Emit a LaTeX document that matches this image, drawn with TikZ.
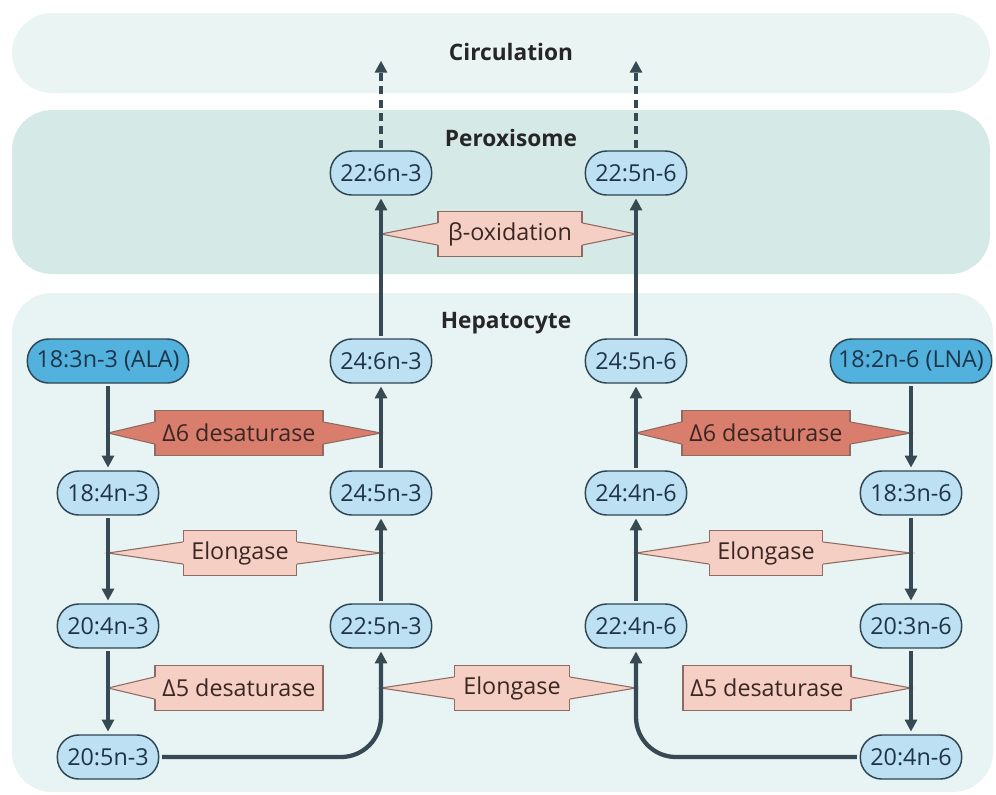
\documentclass[tikz,border=0pt]{standalone}
\usepackage{fontspec}
\setmainfont{Open Sans}
\usetikzlibrary{arrows.meta,calc}

\definecolor{circbg}{HTML}{EAF4F2}
\definecolor{peroxbg}{HTML}{D5EAE6}
\definecolor{hepbg}{HTML}{E8F3F4}
\definecolor{fafill}{HTML}{BEE0F3}
\definecolor{fadark}{HTML}{52B2DD}
\definecolor{faline}{HTML}{2C4654}
\definecolor{fatext}{HTML}{1E3448}
\definecolor{enzdark}{HTML}{D97E6D}
\definecolor{enzlight}{HTML}{F6CFC4}
\definecolor{enzline}{HTML}{8E6A62}
\definecolor{enztext}{HTML}{3A2724}
\definecolor{arrowgrey}{HTML}{374A53}

\tikzset{
  fa/.style={draw=faline, line width=1.1pt, fill=fafill, rounded corners=16pt,
    minimum width=76pt, minimum height=33pt, inner sep=3pt, text=fatext,
    font=\fontsize{17.5}{20}\selectfont},
  fasource/.style={fa, fill=fadark, minimum width=121pt},
  enz/.style={draw=enzline, line width=0.8pt, fill=enzlight, minimum height=34pt,
    inner sep=3pt, text=enztext, font=\fontsize{17.5}{20}\selectfont},
  enzd/.style={enz, fill=enzdark},
  place/.style={font=\fontsize{17}{20}\selectfont\bfseries, text=black!85},
  arr/.style={arrowgrey, line width=3.2pt, -{Triangle[length=9pt,width=9pt]},
    shorten >=2pt, shorten <=2pt},
}

\begin{document}
\begin{tikzpicture}[x=0.75pt, y=-0.75pt]
    \useasboundingbox (0,0) rectangle (996,794);

    % Compartments
    \fill[circbg, rounded corners=30pt] (12,13) rectangle (990,93);
    \fill[peroxbg, rounded corners=30pt] (12,110) rectangle (990,274);
    \fill[hepbg, rounded corners=30pt] (12,293) rectangle (993,792);
    \node[place] (circ) at (511,52) {Circulation};
    \node[place] (perox) at (511,138) {Peroxisome};
    \node[place] (hep) at (506,323) {Hepatocyte};

    % n-3 fatty acids
    \node[fasource] (n183) at (108,361) {18:3n-3 (ALA)};
    \node[fa] (n184) at (108,493) {18:4n-3};
    \node[fa] (n204) at (108,626) {20:4n-3};
    \node[fa] (n205) at (108,757) {20:5n-3};
    \node[fa] (n225) at (381,626) {22:5n-3};
    \node[fa] (n245) at (381,493) {24:5n-3};
    \node[fa] (n246) at (381,361) {24:6n-3};
    \node[fa] (n226) at (381,173) {22:6n-3};

    % n-6 fatty acids
    \node[fasource] (m182) at (911,361) {18:2n-6 (LNA)};
    \node[fa] (m183) at (911,493) {18:3n-6};
    \node[fa] (m203) at (911,626) {20:3n-6};
    \node[fa] (m204) at (911,757) {20:4n-6};
    \node[fa] (m224) at (636,626) {22:4n-6};
    \node[fa] (m244) at (636,493) {24:4n-6};
    \node[fa] (m245) at (636,361) {24:5n-6};
    \node[fa] (m225) at (636,173) {22:5n-6};

    % Enzymes
    \node[enzd, minimum width=126pt] (d6a) at (239,433) {Δ6 desaturase};
    \node[enz, minimum width=85pt] (ela) at (240,553) {Elongase};
    \node[enz, minimum width=126pt] (d5a) at (239,688) {Δ5 desaturase};
    \node[enz, minimum width=108pt] (box) at (510,234) {β-oxidation};
    \node[enz, minimum width=86pt] (elm) at (512,688) {Elongase};
    \node[enzd, minimum width=126pt] (d6b) at (766,433) {Δ6 desaturase};
    \node[enz, minimum width=85pt] (elb) at (766,553) {Elongase};
    \node[enz, minimum width=126pt] (d5b) at (767,688) {Δ5 desaturase};

    % Pointers from the enzyme boxes to the arrows
    \foreach \e/\s/\t/\d/\c in {d6a/west/n184/1/enzdark, d6a/east/n245/-1/enzdark,
        ela/west/n184/1/enzlight, ela/east/n245/-1/enzlight,
        d5a/west/n204/1/enzlight, box/west/n246/1/enzlight, box/east/m245/-1/enzlight,
        elm/west/n225/1/enzlight, elm/east/m224/-1/enzlight,
        d6b/west/m244/1/enzdark, d6b/east/m183/-1/enzdark,
        elb/west/m244/1/enzlight, elb/east/m183/-1/enzlight,
        d5b/east/m203/-1/enzlight}
    {
        \fill[\c] ($(\e.\s)+(2*\d,-11)$) -- ($(\e.\s)+(0,-11)$) -- (\e.\s -| \t)
            -- ($(\e.\s)+(0,11)$) -- ($(\e.\s)+(2*\d,11)$) -- cycle;
        \draw[enzline, line width=0.8pt] ($(\e.\s)+(0,-11)$) -- (\e.\s -| \t)
            -- ($(\e.\s)+(0,11)$);
    }

    % n-3 pathway
    \draw[arr] (n183) -- (n184);
    \draw[arr] (n184) -- (n204);
    \draw[arr] (n204) -- (n205);
    \draw[arr, rounded corners=30pt] (n205.east) -| (n225.south);
    \draw[arr] (n225) -- (n245);
    \draw[arr] (n245) -- (n246);
    \draw[arr] (n246) -- (n226);
    \coordinate (outa) at (381,58);
    \draw[arr, dash pattern=on 6pt off 4pt] (n226) -- (outa);

    % n-6 pathway
    \draw[arr] (m182) -- (m183);
    \draw[arr] (m183) -- (m203);
    \draw[arr] (m203) -- (m204);
    \draw[arr, rounded corners=30pt] (m204.west) -| (m224.south);
    \draw[arr] (m224) -- (m244);
    \draw[arr] (m244) -- (m245);
    \draw[arr] (m245) -- (m225);
    \coordinate (outb) at (636,58);
    \draw[arr, dash pattern=on 6pt off 4pt] (m225) -- (outb);
\end{tikzpicture}
\end{document}
